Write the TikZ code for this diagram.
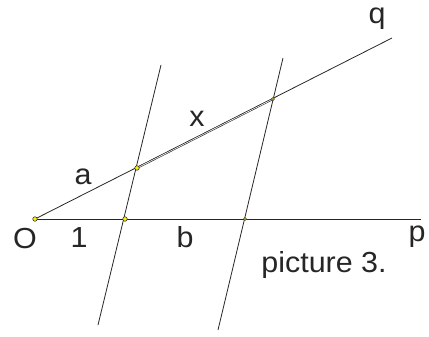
\documentclass[tikz,border=0pt]{standalone}
\usepackage{fontspec}
\setmainfont{Liberation Sans}
\begin{document}
\begin{tikzpicture}[x=1pt,y=-1pt,
  ln/.style={draw=black!85,line width=0.8pt},
  pt/.style={circle,draw=black!80,fill=yellow,inner sep=0pt,minimum size=4.5pt,line width=0.6pt},
  lab/.style={font=\fontsize{29}{32}\selectfont,text=black!85,inner sep=0pt,anchor=base,xscale=1.05},
  captionlab/.style={font=\fontsize{29}{32}\selectfont,text=black!85,inner sep=0pt,anchor=base,xscale=1.05}]
\useasboundingbox (0,0) rectangle (429,337);
% coordinates
\coordinate (O) at (35,219);
\coordinate (pend) at (421,219);
\coordinate (qend) at (392,38);
\coordinate (A1) at (125,219);
\coordinate (B1) at (137,168);
\coordinate (A2) at (245,219);
\coordinate (B2) at (273,99);
\coordinate (L1t) at (161,65);
\coordinate (L1b) at (98,325);
\coordinate (L2t) at (283,58);
\coordinate (L2b) at (218,330);
% lines
\draw[ln] (O) -- (pend);
\draw[ln] (O) -- (qend);
\draw[ln] (L1t) -- (L1b);
\draw[ln] (L2t) -- (L2b);
\draw[draw=black!85,line width=0.6pt,double=white,double distance=0.6pt] (B1) -- (B2);
% points
\node[pt] (pO) at (O) {};
\node[pt] (pA1) at (A1) {};
\node[pt] (pB1) at (B1) {};
\node[pt,minimum size=3pt] (pA2) at (A2) {};
\node[pt,minimum size=3pt] (pB2) at (B2) {};
% labels
\node[lab] (lq) at (377,24) {q};
\node[lab] (la) at (83,184) {a};
\node[lab] (lx) at (197,127) {x};
\node[lab] (lO) at (25,248) {O};
\node[lab] (l1) at (79,247) {1};
\node[lab] (lb) at (185,247) {b};
\node[lab] (lp) at (417,241) {p};
\node[captionlab] (lc) at (324,272) {picture 3.};
\end{tikzpicture}
\end{document}
